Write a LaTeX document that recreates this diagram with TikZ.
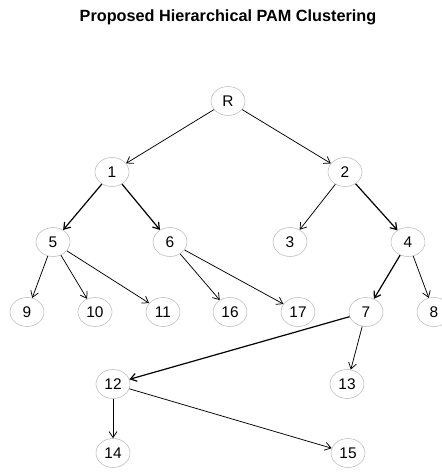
\documentclass[tikz,border=0pt]{standalone}
\usepackage{fontspec}
\setmainfont{Liberation Sans}
\usetikzlibrary{shapes.geometric,arrows.meta}
\begin{document}
\begin{tikzpicture}[x=1bp,y=-1bp,
  vtx/.style={ellipse,draw=black!25,line width=0.6bp,minimum width=34bp,minimum height=29bp,inner sep=0pt,font=\fontsize{15.5}{15.5}\selectfont},
  edge/.style={draw=black,line width=0.75bp,-{Straight Barb[length=6bp,width=8bp]}},
  thick edge/.style={edge,line width=1.2bp}]
\useasboundingbox (0,0) rectangle (442,473);
\node[font=\bfseries\fontsize{16.3}{16.3}\selectfont] (title) at (228,17) {Proposed Hierarchical PAM Clustering};
\node[vtx] (R) at (228,101) {R};
\node[vtx] (n1) at (112,172) {1};
\node[vtx] (n2) at (345,172) {2};
\node[vtx] (n5) at (53,242) {5};
\node[vtx] (n6) at (170,242) {6};
\node[vtx] (n3) at (290,242) {3};
\node[vtx] (n4) at (408,242) {4};
\node[vtx] (n9) at (27,312) {9};
\node[vtx] (n10) at (95,312) {10};
\node[vtx] (n11) at (163,312) {11};
\node[vtx] (n16) at (230,312) {16};
\node[vtx] (n17) at (298,312) {17};
\node[vtx] (n7) at (366,312) {7};
\node[vtx] (n8) at (434,312) {8};
\node[vtx] (n12) at (113,384) {12};
\node[vtx] (n13) at (347,384) {13};
\node[vtx] (n14) at (113,453) {14};
\node[vtx] (n15) at (348,453) {15};
\draw[edge] (R) -- (n1);
\draw[edge] (R) -- (n2);
\draw[thick edge] (n1) -- (n5);
\draw[thick edge] (n1) -- (n6);
\draw[edge] (n2) -- (n3);
\draw[thick edge] (n2) -- (n4);
\draw[edge] (n5) -- (n9);
\draw[edge] (n5) -- (n10);
\draw[edge] (n5) -- (n11);
\draw[edge] (n6) -- (n16);
\draw[edge] (n6) -- (n17);
\draw[thick edge] (n4) -- (n7);
\draw[edge] (n4) -- (n8);
\draw[thick edge] (n7) -- (n12);
\draw[edge] (n7) -- (n13);
\draw[edge] (n12) -- (n14);
\draw[edge] (n12) -- (n15);
\end{tikzpicture}
\end{document}
